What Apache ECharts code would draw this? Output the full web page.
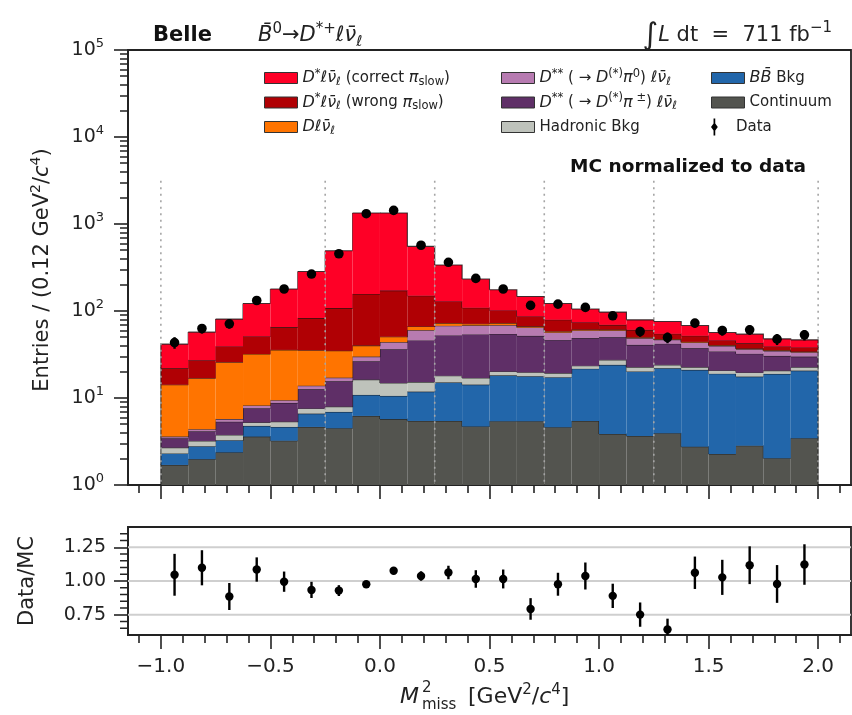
<!DOCTYPE html>
<html><head><meta charset="utf-8">
<script src="https://cdn.jsdelivr.net/npm/echarts@6/dist/echarts.min.js"></script>
<style>html,body{margin:0;padding:0;background:#fff}#c{width:852px;height:715px}</style>
</head><body><div id="c"></div>
<script>
// ---- binning ----
const binLow = -1.0, binWidth = 0.125, nBins = 24;
const xMin = -1.15, xMax = 2.15;
const yLogMin = 1, yLogMax = 100000;
const ratioMin = 0.6, ratioMax = 1.4;

// ---- stacked MC components (bottom to top) ----
const continuum   = [1.70, 1.98, 2.37, 3.60, 3.23, 4.65, 4.49, 6.22, 5.72, 5.45, 5.45, 4.71, 5.42, 5.42, 4.61, 5.45, 3.86, 3.66, 3.94, 2.76, 2.27, 2.83, 2.03, 3.45];
const bbBkg       = [0.60, 0.81, 0.90, 1.18, 1.42, 1.97, 2.43, 4.63, 4.85, 6.40, 9.67, 9.55, 12.8, 12.4, 12.7, 16.2, 20.2, 16.5, 18.1, 18.3, 16.7, 14.8, 16.9, 17.2];
const hadronic    = [0.39, 0.42, 0.49, 0.46, 0.70, 0.94, 1.04, 5.43, 4.35, 3.39, 2.93, 2.77, 1.93, 2.00, 2.03, 1.79, 3.40, 2.49, 2.01, 1.57, 1.73, 1.97, 1.73, 1.95];
const dssPiPM     = [0.76, 0.94, 1.58, 2.39, 3.43, 5.08, 7.65, 10.2, 21.5, 30.5, 34.2, 36.6, 34.2, 32.0, 27.0, 25.4, 22.6, 18.2, 17.9, 14.8, 13.5, 12.6, 9.84, 7.33];
const dssPi0      = [0.15, 0.23, 0.38, 0.59, 0.65, 1.22, 1.52, 3.44, 7.43, 14.5, 15.3, 14.8, 14.4, 12.7, 10.3, 10.9, 9.57, 7.93, 4.69, 5.99, 5.57, 4.26, 4.32, 3.70];
const dlnu        = [10.6, 12.5, 20.1, 23.8, 26.3, 21.5, 17.9, 10.1, 6.64, 6.0, 5.0, 2.8, 3.8, 2.1, 1.8, 1.44, 1.44, 1.06, 0.86, 0.81, 0.75, 0.59, 0.65, 0.55];
const dstarWrong  = [7.85, 10.3, 13.2, 18.9, 29.6, 47.5, 73.0, 117, 121, 83.3, 56.0, 37.6, 28.7, 19.8, 20.8, 12.7, 8.28, 10.9, 7.16, 7.62, 5.25, 5.70, 3.55, 3.82];
const dstarCorrect= [19.6, 30.0, 41.7, 71.1, 114, 202, 385, 1181, 1166, 403, 209, 124, 74.1, 60.5, 42.8, 31.5, 27.8, 18.4, 21.1, 16.2, 10.8, 11.5, 8.83, 8.61];

// ---- data ----
const dataVals = [43.4, 62.9, 71.2, 132, 179, 266, 455, 1314, 1434, 570, 363, 237, 179, 116, 120, 110, 88.1, 58.1, 49.6, 72.6, 59.7, 60.8, 47.5, 53.2];
const dataErr  = [6.6, 7.9, 8.4, 11.5, 13.4, 16.3, 21.3, 36.2, 37.9, 23.9, 19.1, 15.4, 13.4, 10.8, 11.0, 10.5, 9.4, 7.6, 7.0, 8.5, 7.7, 7.8, 6.9, 7.3];
const ratioVals= [1.046, 1.098, 0.885, 1.085, 0.995, 0.934, 0.929, 0.976, 1.076, 1.037, 1.063, 1.015, 1.015, 0.793, 0.976, 1.037, 0.890, 0.751, 0.641, 1.061, 1.027, 1.117, 0.978, 1.122];
const ratioErr = [0.155, 0.13, 0.10, 0.09, 0.075, 0.06, 0.04, 0.02, 0.02, 0.035, 0.05, 0.065, 0.07, 0.08, 0.085, 0.10, 0.09, 0.09, 0.08, 0.12, 0.13, 0.14, 0.14, 0.15];

// ---- ticks / reference lines ----
const majorXTicks = [-1.0, -0.5, 0.0, 0.5, 1.0, 1.5, 2.0];
const minorXTicks = [-1.1, -0.9, -0.8, -0.7, -0.6, -0.4, -0.3, -0.2, -0.1, 0.1, 0.2, 0.3, 0.4, 0.6, 0.7, 0.8, 0.9, 1.1, 1.2, 1.3, 1.4, 1.6, 1.7, 1.8, 1.9, 2.1];
const ratioTicks = [0.75, 1.00, 1.25];
const ratioMinorTicks = [0.65, 0.70, 0.80, 0.85, 0.90, 0.95, 1.05, 1.10, 1.15, 1.20, 1.30, 1.35];
const ratioRefLines = [0.75, 1.00, 1.25];
const dottedX = [-1.0, -0.25, 0.25, 0.75, 1.25, 2.0];
const dottedTop = 3150;

const F = 'DejaVu Sans';
const layers = [
  {name: 'continuum', vals: continuum,    color: '#53544f'},
  {name: 'bb',        vals: bbBkg,        color: '#2266aa'},
  {name: 'hadronic',  vals: hadronic,     color: '#bec2bb'},
  {name: 'pipm',      vals: dssPiPM,      color: '#5f2f67'},
  {name: 'pi0',       vals: dssPi0,       color: '#b77bb1'},
  {name: 'dlnu',      vals: dlnu,         color: '#ff7400'},
  {name: 'wrong',     vals: dstarWrong,   color: '#b00004'},
  {name: 'correct',   vals: dstarCorrect, color: '#fe0026'}
];
// cumulative stack tops
const cum = [];
layers.forEach((l, k) => {
  cum.push(l.vals.map((v, i) => (k === 0 ? 0 : cum[k - 1][i]) + v));
});

const legendLabels = {
  correct: '{i|D}{sup|*}{i|ℓν̄}{sub|ℓ} (correct {i|π}{sub|slow})',
  wrong: '{i|D}{sup|*}{i|ℓν̄}{sub|ℓ} (wrong {i|π}{sub|slow})',
  dlnu: '{i|Dℓν̄}{sub|ℓ}',
  pi0: '{i|D}{sup|**} ( → {i|D}{sup|(*)}{i|π}{sup|0}) {i|ℓν̄}{sub|ℓ}',
  pipm: '{i|D}{sup|**} ( → {i|D}{sup|(*)}{i|π}{sup| ±}) {i|ℓν̄}{sub|ℓ}',
  hadronic: 'Hadronic Bkg',
  bb: '{i|BB̄} Bkg',
  continuum: 'Continuum',
  data: 'Data'
};
const legRich = {
  i: {fontStyle: 'italic', fontSize: 16, fontFamily: F, color: '#222'},
  sup: {fontSize: 11.5, fontFamily: F, verticalAlign: 'top', color: '#222'},
  sub: {fontSize: 11.5, fontFamily: F, verticalAlign: 'bottom', color: '#222'}
};
const legText = {fontSize: 15, fontFamily: F, color: '#222', lineHeight: 20, rich: legRich};

const axisCol = '#222';

function layerSeries(k) {
  const l = layers[k];
  return {
    type: 'custom', name: l.name, xAxisIndex: 0, yAxisIndex: 0, clip: true, z: 2 + k * 0.01,
    itemStyle: {color: l.color},
    data: l.vals.map((v, i) => [binLow + i * binWidth, binLow + (i + 1) * binWidth, k === 0 ? yLogMin : cum[k - 1][i], cum[k][i]]),
    renderItem: (params, api) => {
      const i = params.dataIndex;
      const x0 = api.value(0), x1 = api.value(1), lo = api.value(2), hi = api.value(3);
      const pTL = api.coord([x0, hi]), pBR = api.coord([x1, lo]);
      const pts = [];
      if (i === 0) pts.push(api.coord([x0, lo]));
      pts.push(pTL, api.coord([x1, hi]));
      if (i < nBins - 1) pts.push(api.coord([x1, cum[k][i + 1]]));
      else pts.push(api.coord([x1, lo]));
      return {type: 'group', children: [
        {type: 'rect', shape: {x: pTL[0], y: pTL[1], width: pBR[0] - pTL[0], height: pBR[1] - pTL[1]}, style: {fill: l.color}},
        {type: 'polyline', shape: {points: pts}, style: {stroke: 'rgba(20,20,20,0.8)', lineWidth: 1.1, fill: null}}
      ]};
    }
  };
}

const series = [];
for (let k = 0; k < layers.length; k++) series.push(layerSeries(k));

series.push({
  type: 'custom', name: 'dotted', xAxisIndex: 0, yAxisIndex: 0, z: 5, silent: true,
  data: dottedX.map(x => [x, dottedTop]),
  renderItem: (params, api) => {
    const a = api.coord([api.value(0), api.value(1)]), b = api.coord([api.value(0), yLogMin]);
    return {type: 'line', shape: {x1: a[0], y1: a[1], x2: b[0], y2: b[1]}, style: {stroke: '#a5a5a5', lineWidth: 1.6, lineDash: [2, 4.5]}};
  }
});

function pointRender(params, api) {
  const x = api.value(0), y = api.value(1), e = api.value(2);
  const c = api.coord([x, y]), t = api.coord([x, y + e]), b = api.coord([x, y - e]);
  return {type: 'group', children: [
    {type: 'line', shape: {x1: c[0], y1: t[1], x2: c[0], y2: b[1]}, style: {stroke: '#000', lineWidth: 2.4}},
    {type: 'circle', shape: {cx: c[0], cy: c[1], r: 4.8}, style: {fill: '#000'}}
  ]};
}
series.push({
  type: 'custom', name: 'data', xAxisIndex: 0, yAxisIndex: 0, z: 10, clip: true,
  itemStyle: {color: '#000'},
  data: dataVals.map((v, i) => [binLow + (i + 0.5) * binWidth, v, dataErr[i]]),
  renderItem: pointRender
});
series.push({
  type: 'custom', name: 'refl', xAxisIndex: 2, yAxisIndex: 1, z: 1, silent: true,
  data: ratioRefLines.map(v => [v]),
  renderItem: (params, api) => {
    const a = api.coord([xMin, api.value(0)]), b = api.coord([xMax, api.value(0)]);
    return {type: 'line', shape: {x1: a[0], y1: a[1], x2: b[0], y2: b[1]}, style: {stroke: '#cfcfcf', lineWidth: 2}};
  }
});
series.push({
  type: 'custom', name: 'ratio', xAxisIndex: 2, yAxisIndex: 1, z: 10, clip: true,
  data: ratioVals.map((v, i) => [binLow + (i + 0.5) * binWidth, v, ratioErr[i]]),
  renderItem: (params, api) => {
    const x = api.value(0), y = api.value(1), e = api.value(2);
    const c = api.coord([x, y]), t = api.coord([x, y + e]), b = api.coord([x, y - e]);
    return {type: 'group', children: [
      {type: 'line', shape: {x1: c[0], y1: t[1], x2: c[0], y2: b[1]}, style: {stroke: '#000', lineWidth: 2.4}},
      {type: 'circle', shape: {cx: c[0], cy: c[1], r: 4.2}, style: {fill: '#000'}}
    ]};
  }
});

const tickLine = {color: axisCol, width: 1.6};
const baseX = (grid, ticks, len, showLine, labels) => ({
  type: 'value', gridIndex: grid, min: xMin, max: xMax, position: 'bottom',
  axisLine: {show: showLine, onZero: false, lineStyle: {color: axisCol, width: 1.8}},
  axisTick: {show: true, customValues: ticks, length: len, lineStyle: tickLine},
  axisLabel: labels ? {show: true, customValues: majorXTicks, margin: 22, fontSize: 20, fontFamily: F, color: '#222',
    formatter: v => (v < 0 ? '−' : '') + Math.abs(v).toFixed(1)} : {show: false},
  splitLine: {show: false}
});

const graphicEls = [
  {type: 'text', x: 153, y: 36, style: {text: 'Belle', font: 'bold 21px "DejaVu Sans"', fill: '#111', verticalAlign: 'middle'}},
  {type: 'text', x: 258, y: 36, style: {text: '{i|B̄}{sup|0}→{i|D}{sup|*+}{i|ℓν̄}{sub|ℓ}', fontSize: 21, fontFamily: F, fill: '#222', verticalAlign: 'middle', lineHeight: 28,
    rich: {i: {fontStyle: 'italic', fontSize: 21, fontFamily: F, fill: '#222'}, sup: {fontSize: 15, fontFamily: F, verticalAlign: 'top'}, sub: {fontSize: 15, fontFamily: F, verticalAlign: 'bottom'}}}},
  {type: 'text', x: 832, y: 36, style: {text: '{int|∫}{i|L} dt  =  711 fb{sup|−1}', fontSize: 21, fontFamily: F, fill: '#222', align: 'right', verticalAlign: 'middle', lineHeight: 30,
    rich: {int: {fontSize: 30, fontFamily: F}, i: {fontStyle: 'italic', fontSize: 21, fontFamily: F}, sup: {fontSize: 15, fontFamily: F, verticalAlign: 'top'}}}},
  {type: 'text', x: 806, y: 167, style: {text: 'MC normalized to data', font: 'bold 18.5px "DejaVu Sans"', fill: '#111', align: 'right', verticalAlign: 'middle'}},
  {type: 'text', x: 43, y: 270, rotation: Math.PI / 2, style: {text: 'Entries / (0.12 GeV{sup|2}/{i|c}{sup|4})', fontSize: 21, fontFamily: F, fill: '#222', align: 'center', verticalAlign: 'middle', lineHeight: 28,
    rich: {i: {fontStyle: 'italic', fontSize: 21, fontFamily: F}, sup: {fontSize: 14, fontFamily: F, verticalAlign: 'top'}}}},
  {type: 'text', x: 28, y: 581, rotation: Math.PI / 2, style: {text: 'Data/MC', fontSize: 21, fontFamily: F, fill: '#222', align: 'center', verticalAlign: 'middle'}},
  {type: 'text', x: 400, y: 697, style: {text: 'M', font: 'italic 22px "DejaVu Sans"', fill: '#222', verticalAlign: 'middle'}},
  {type: 'text', x: 422, y: 688, style: {text: '2', font: '15px "DejaVu Sans"', fill: '#222', verticalAlign: 'middle'}},
  {type: 'text', x: 422, y: 705, style: {text: 'miss', font: '15px "DejaVu Sans"', fill: '#222', verticalAlign: 'middle'}},
  {type: 'text', x: 468, y: 697, style: {text: '[GeV{sup|2}/{i|c}{sup|4}]', fontSize: 22, fontFamily: F, fill: '#222', verticalAlign: 'middle', lineHeight: 28,
    rich: {i: {fontStyle: 'italic', fontSize: 22, fontFamily: F}, sup: {fontSize: 15, fontFamily: F, verticalAlign: 'top'}}}}
];

const option = {
  animation: false,
  backgroundColor: '#fff',
  grid: [
    {left: 128, top: 50, width: 723, height: 435, show: true, borderColor: axisCol, borderWidth: 1.8, backgroundColor: 'transparent'},
    {left: 128, top: 527, width: 723, height: 108, show: true, borderColor: axisCol, borderWidth: 1.8, backgroundColor: 'transparent'}
  ],
  xAxis: [
    baseX(0, minorXTicks, 8, true, false),
    baseX(0, majorXTicks, 14, false, false),
    baseX(1, minorXTicks, 8, true, false),
    baseX(1, majorXTicks, 14, false, true)
  ],
  yAxis: [
    {type: 'log', gridIndex: 0, logBase: 10, min: yLogMin, max: yLogMax, position: 'left',
     axisLine: {show: true, onZero: false, lineStyle: {color: axisCol, width: 1.8}},
     axisTick: {show: true, length: 14, lineStyle: tickLine},
     minorTick: {show: true, splitNumber: 9, length: 8, lineStyle: {color: axisCol, width: 1.5}},
     axisLabel: {margin: 24, fontSize: 19, fontFamily: F, color: '#222',
       formatter: v => '{b|10}{sup|' + Math.round(Math.log10(v)) + '}',
       rich: {b: {fontSize: 19, fontFamily: F, color: '#222', lineHeight: 26}, sup: {fontSize: 13, fontFamily: F, color: '#222', verticalAlign: 'top'}}},
     splitLine: {show: false}, minorSplitLine: {show: false}},
    {type: 'value', gridIndex: 1, min: ratioMin, max: ratioMax, position: 'left',
     axisLine: {show: true, onZero: false, lineStyle: {color: axisCol, width: 1.8}},
     axisTick: {show: true, customValues: ratioTicks, length: 14, lineStyle: tickLine},
     axisLabel: {show: true, customValues: ratioTicks, margin: 22, fontSize: 19, fontFamily: F, color: '#222', formatter: v => v.toFixed(2)},
     splitLine: {show: false}}
  ],
  legend: [
    {left: 259, top: 63, orient: 'vertical', icon: 'rect', itemWidth: 33, itemHeight: 11, itemGap: 4.5, selectedMode: false,
     itemStyle: {borderColor: '#333', borderWidth: 1}, data: ['correct', 'wrong', 'dlnu'], formatter: n => legendLabels[n], textStyle: legText},
    {left: 496, top: 63, orient: 'vertical', icon: 'rect', itemWidth: 33, itemHeight: 11, itemGap: 4.5, selectedMode: false,
     itemStyle: {borderColor: '#333', borderWidth: 1}, data: ['pi0', 'pipm', 'hadronic'], formatter: n => legendLabels[n], textStyle: legText},
    {left: 706, top: 63, orient: 'vertical', icon: 'rect', itemWidth: 33, itemHeight: 11, itemGap: 4.5, selectedMode: false,
     itemStyle: {borderColor: '#333', borderWidth: 1}, data: ['bb', 'continuum'], formatter: n => legendLabels[n], textStyle: legText},
    {left: 706, top: 112, orient: 'vertical', itemWidth: 33, itemHeight: 17, selectedMode: false,
     icon: 'path://M4,0 L6,0 L6,6 L9,10 L6,14 L6,20 L4,20 L4,14 L1,10 L4,6 Z',
     data: ['data'], formatter: n => legendLabels[n], textStyle: legText}
  ],
  graphic: graphicEls,
  series: series
};

const chart = echarts.init(document.getElementById('c'), null, {renderer: 'canvas'});
chart.setOption(option);

// minor ticks of the ratio axis, placed through that axis' own scale
const tickEls = [];
const xLeftBot = chart.convertToPixel({xAxisIndex: 2}, xMin);
ratioMinorTicks.forEach(v => {
  const y = chart.convertToPixel({yAxisIndex: 1}, v);
  tickEls.push({type: 'line', silent: true, z: 50, shape: {x1: xLeftBot - 8, y1: y, x2: xLeftBot, y2: y}, style: {stroke: axisCol, lineWidth: 1.5}});
});
chart.setOption({graphic: graphicEls.concat(tickEls)});
</script>
</body></html>
